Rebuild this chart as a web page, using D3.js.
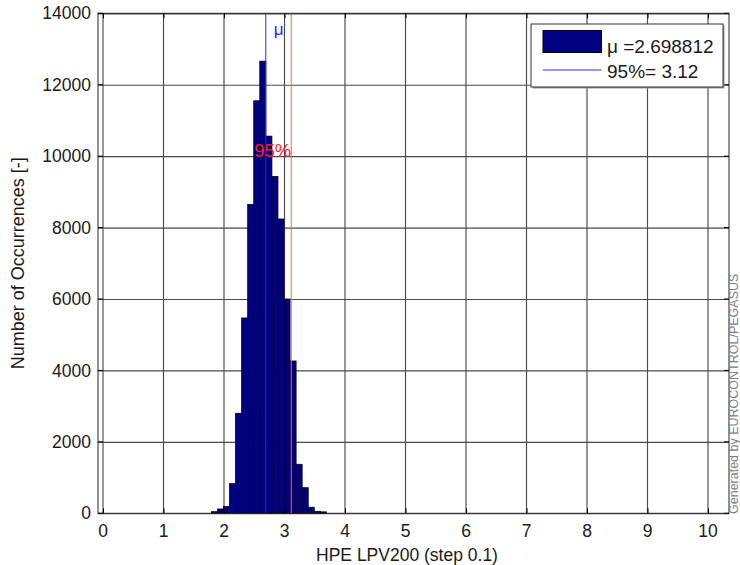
<!DOCTYPE html>
<html>
<head>
<meta charset="utf-8">
<script src="https://cdn.jsdelivr.net/npm/d3@7"></script>
<style>
  html, body { margin: 0; padding: 0; background: #fff; }
  svg { display: block; font-family: Arial, "Liberation Sans", sans-serif; }
</style>
</head>
<body>
<svg id="chart" width="740" height="565"></svg>
<script>
// Histogram of HPE LPV200 values, bins of width 0.1 (left edge of each bin)
const binStarts = [1.8, 1.9, 2.0, 2.1, 2.2, 2.3, 2.4, 2.5, 2.6, 2.7, 2.8, 2.9, 3.0, 3.1, 3.2, 3.3, 3.4, 3.5, 3.6];
const counts    = [45, 120, 190, 830, 2800, 5470, 8650, 11550, 12660, 10560, 9430, 8240, 6000, 4265, 1372, 717, 170, 55, 40];
const binWidth = 0.1;

const xTicks = [0, 1, 2, 3, 4, 5, 6, 7, 8, 9, 10];
const yTicks = [0, 2000, 4000, 6000, 8000, 10000, 12000, 14000];

const meanValue = 2.698812;
const p95Value = 3.12;

const legendLabels = ["\u03bc =2.698812", "95%= 3.12"];

const svg = d3.select("#chart");

// plot frame
const frame = { left: 98, right: 729, top: 13.3, bottom: 513.3 };

const x = d3.scaleLinear().domain([0, 10]).range([102.5, 707.5]);
const y = d3.scaleLinear().domain([0, 14000]).range([frame.bottom, frame.top]);

// grid lines
svg.append("g")
  .attr("transform", `translate(0,${frame.bottom})`)
  .call(d3.axisBottom(x).tickValues(xTicks).tickSize(-(frame.bottom - frame.top)).tickFormat(""))
  .call(g => g.select(".domain").remove())
  .call(g => g.selectAll("line").attr("stroke", "#4a4a4a").attr("stroke-width", 1.15));

svg.append("g")
  .attr("transform", `translate(${frame.left},0)`)
  .call(d3.axisLeft(y).tickValues(yTicks).tickSize(-(frame.right - frame.left)).tickFormat(""))
  .call(g => g.select(".domain").remove())
  .call(g => g.selectAll("line").attr("stroke", "#4a4a4a").attr("stroke-width", 1.15));

// bars
svg.append("g")
  .selectAll("rect")
  .data(binStarts.map((b, i) => ({ b, c: counts[i] })))
  .join("rect")
  .attr("x", d => x(d.b))
  .attr("width", d => x(d.b + binWidth) - x(d.b))
  .attr("y", d => y(d.c))
  .attr("height", d => y(0) - y(d.c))
  .attr("fill", "#000080")
  .attr("stroke", "#000")
  .attr("stroke-width", 0.8);

// mean and 95% lines
svg.append("line")
  .attr("x1", x(meanValue)).attr("x2", x(meanValue))
  .attr("y1", frame.top).attr("y2", frame.bottom)
  .attr("stroke", "#2a2aff").attr("stroke-width", 1);

svg.append("line")
  .attr("x1", x(p95Value)).attr("x2", x(p95Value))
  .attr("y1", frame.top).attr("y2", frame.bottom)
  .attr("stroke", "#ff6060").attr("stroke-width", 1);

svg.append("text")
  .attr("x", x(meanValue) + 8).attr("y", 35)
  .attr("fill", "#2a2aff").attr("font-size", 17)
  .text("\u03bc");

svg.append("text")
  .attr("x", x(p95Value) - 37).attr("y", 157)
  .attr("fill", "#ff1a1a").attr("font-size", 18.5)
  .text("95%");

// frame
svg.append("rect")
  .attr("x", frame.left).attr("y", frame.top)
  .attr("width", frame.right - frame.left).attr("height", frame.bottom - frame.top)
  .attr("fill", "none").attr("stroke", "#222").attr("stroke-width", 1);

// small inward ticks on all four sides
const tickLen = 5;
const tk = svg.append("g").attr("stroke", "#000").attr("stroke-width", 1);
xTicks.forEach(v => {
  tk.append("line").attr("x1", x(v) + 1).attr("x2", x(v) + 1).attr("y1", frame.top).attr("y2", frame.top + tickLen);
  tk.append("line").attr("x1", x(v) + 1).attr("x2", x(v) + 1).attr("y1", frame.bottom).attr("y2", frame.bottom - tickLen);
});
yTicks.forEach(v => {
  tk.append("line").attr("x1", frame.left).attr("x2", frame.left + tickLen).attr("y1", y(v)).attr("y2", y(v));
  tk.append("line").attr("x1", frame.right).attr("x2", frame.right - tickLen).attr("y1", y(v)).attr("y2", y(v));
});

// tick labels
svg.append("g")
  .attr("transform", `translate(0,${frame.bottom})`)
  .call(d3.axisBottom(x).tickValues(xTicks).tickSize(0).tickPadding(11).tickFormat(d3.format("d")))
  .call(g => g.select(".domain").remove())
  .call(g => g.selectAll("text").attr("font-size", 17.5).attr("fill", "#1a1a1a")
    .attr("font-family", "Arial, 'Liberation Sans', sans-serif"));

svg.append("g")
  .attr("transform", `translate(${frame.left},0)`)
  .call(d3.axisLeft(y).tickValues(yTicks).tickSize(0).tickPadding(7).tickFormat(d3.format("d")))
  .call(g => g.select(".domain").remove())
  .call(g => g.selectAll("text").attr("font-size", 17.5).attr("fill", "#1a1a1a")
    .attr("font-family", "Arial, 'Liberation Sans', sans-serif"));

// axis titles
svg.append("text")
  .attr("x", 407).attr("y", 561)
  .attr("text-anchor", "middle").attr("font-size", 17.5).attr("fill", "#1a1a1a")
  .text("HPE LPV200 (step 0.1)");

svg.append("text")
  .attr("transform", `translate(24,${(frame.top + frame.bottom) / 2}) rotate(-90)`)
  .attr("text-anchor", "middle").attr("font-size", 18).attr("fill", "#1a1a1a")
  .text("Number of Occurrences [-]");

// credit line along the right edge
svg.append("text")
  .attr("transform", "translate(737.5,514) rotate(-90)")
  .attr("font-size", 12.5).attr("fill", "#808080")
  .text("Generated by EUROCONTROL/PEGASUS");

// legend
const lg = svg.append("g");
lg.append("rect")
  .attr("x", 532.5).attr("y", 25.5).attr("width", 192).attr("height", 63)
  .attr("fill", "#999");
lg.append("rect")
  .attr("x", 531).attr("y", 24).attr("width", 192).attr("height", 63)
  .attr("fill", "#fff").attr("stroke", "#333").attr("stroke-width", 1);
lg.append("rect")
  .attr("x", 543).attr("y", 30.5).attr("width", 58.5).attr("height", 22)
  .attr("fill", "#000080").attr("stroke", "#000").attr("stroke-width", 1);
lg.append("line")
  .attr("x1", 543).attr("x2", 601.5).attr("y1", 70).attr("y2", 70)
  .attr("stroke", "#2a2aff").attr("stroke-width", 1);
lg.selectAll("text.lbl")
  .data(legendLabels)
  .join("text")
  .attr("class", "lbl")
  .attr("x", 607)
  .attr("y", (d, i) => 53 + i * 25.3)
  .attr("font-size", 19).attr("fill", "#1a1a1a")
  .text(d => d);
</script>
</body>
</html>
